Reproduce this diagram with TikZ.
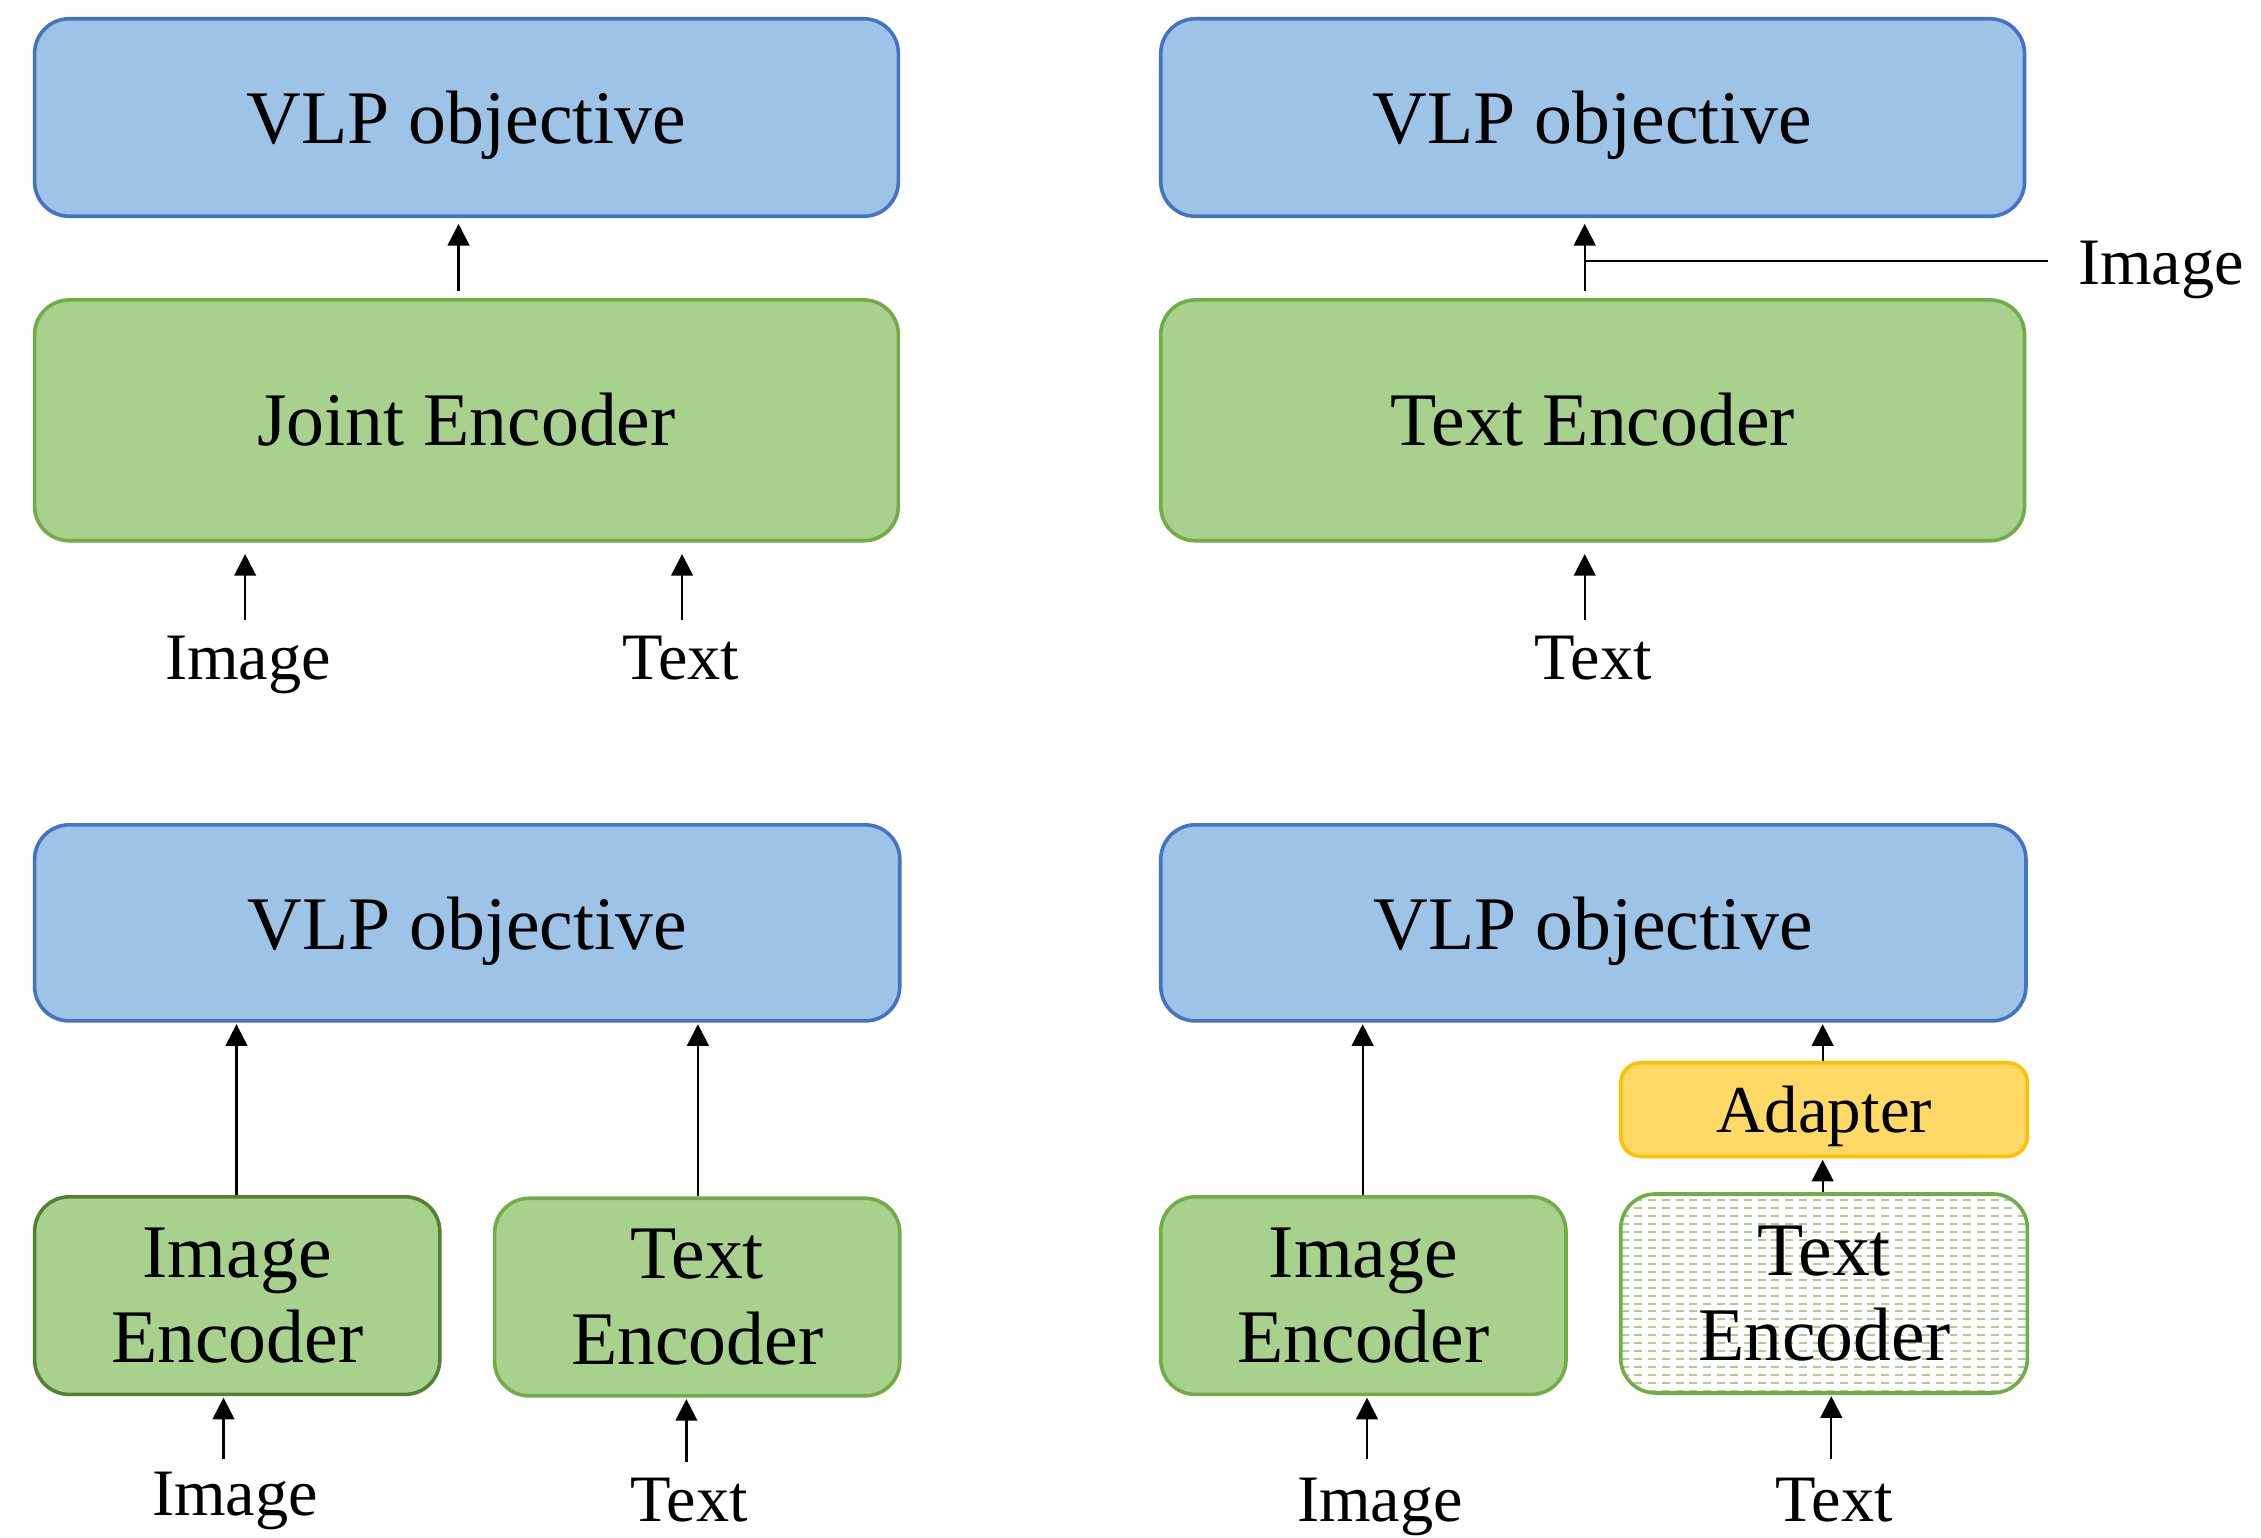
\documentclass[tikz,border=0pt]{standalone}
\usepackage{fontspec}
\setmainfont{Liberation Serif}
\usetikzlibrary{arrows.meta,calc}
\definecolor{vlpfill}{HTML}{9DC3E6}
\definecolor{vlpdraw}{HTML}{4472C4}
\definecolor{encfill}{HTML}{A9D18E}
\definecolor{encdraw}{HTML}{70AD47}
\definecolor{encdark}{HTML}{548235}
\definecolor{adfill}{HTML}{FFD966}
\definecolor{addraw}{HTML}{FFC000}
\tikzset{
  box/.style={rectangle, rounded corners=24pt, line width=2.5pt, inner sep=0pt, align=center,
    font=\fontsize{52.5}{62}\selectfont},
  vlpbox/.style={box, fill=vlpfill, draw=vlpdraw, text depth=0pt},
  encbox/.style={box, fill=encfill, draw=encdraw},
  adbox/.style={box, fill=adfill, draw=addraw, rounded corners=14pt, text depth=0pt, font=\fontsize{46.5}{54}\selectfont},
  lbl/.style={inner sep=0pt, anchor=base, text height=31pt, text depth=10pt, font=\fontsize{46}{54}\selectfont},
  arr/.style={-{Triangle[length=15pt,width=15pt]}, line width=1.6pt},
  hatch/.style={encfill, line width=1.4pt, dash pattern=on 5.5pt off 4pt}
}
\begin{document}
\begin{tikzpicture}[x=1pt,y=-1pt]
\useasboundingbox[fill=white] (0,0) rectangle (1568,1066);

% ---------- top left ----------
\node[vlpbox, minimum width=599pt, minimum height=137pt] (vTL) at (323.5,81.5) {VLP objective};
\node[encbox, minimum width=599pt, minimum height=167pt, text depth=2pt] (jTL) at (323.5,291.5) {Joint Encoder};
\node[lbl] (iTL) at (172,471) {Image};
\node[lbl] (tTL) at (472,471) {Text};
\coordinate (xTL) at (318,0);
\draw[arr, shorten <=5pt, shorten >=4pt] (xTL |- jTL.north) -- (xTL |- vTL.south);
\coordinate (aTLi) at (170,430);
\coordinate (aTLt) at (473,430);
\draw[arr, shorten >=8pt] (aTLi) -- (aTLi |- jTL.south);
\draw[arr, shorten >=8pt] (aTLt) -- (aTLt |- jTL.south);

% ---------- top right ----------
\node[vlpbox, minimum width=599pt, minimum height=137pt] (vTR) at (1104.5,81.5) {VLP objective};
\node[encbox, minimum width=599pt, minimum height=167pt, text depth=2pt] (eTR) at (1104.5,291.5) {Text Encoder};
\node[lbl] (tTR) at (1105,471) {Text};
\node[lbl, anchor=base west] (iTR) at (1441,197) {Image};
\coordinate (xTR) at (1099,0);
\draw[arr, shorten <=5pt, shorten >=4pt] (xTR |- eTR.north) -- (xTR |- vTR.south);
\coordinate (jTR) at (1099,181);
\draw[line width=1.6pt] (iTR.west |- jTR) ++(-21pt,0) -- (jTR);
\coordinate (aTRt) at (1099,430);
\draw[arr, shorten >=8pt] (aTRt) -- (aTRt |- eTR.south);

% ---------- bottom left ----------
\node[vlpbox, minimum width=600pt, minimum height=136pt] (vBL) at (324,640) {VLP objective};
\node[encbox, draw=encdark, minimum width=281pt, minimum height=137pt] (ieBL) at (164.5,898.5) {\raisebox{-3pt}{Image}\\Encoder};
\node[encbox, minimum width=281pt, minimum height=137pt] (teBL) at (483.5,899.5) {\raisebox{-3pt}{Text}\\Encoder};
\node[lbl] (iBL) at (163,1051) {Image};
\node[lbl] (tBL) at (478,1055) {Text};
\coordinate (xBL1) at (164,0);
\coordinate (xBL2) at (484,0);
\draw[arr, shorten >=1pt] (xBL1 |- ieBL.north) -- (xBL1 |- vBL.south);
\draw[arr, shorten >=1pt] (xBL2 |- teBL.north) -- (xBL2 |- vBL.south);
\coordinate (aBLi) at (155,1012);
\coordinate (aBLt) at (476,1014);
\draw[arr, shorten >=1pt] (aBLi) -- (aBLi |- ieBL.south);
\draw[arr, shorten >=1pt] (aBLt) -- (aBLt |- teBL.south);

% ---------- bottom right ----------
\node[vlpbox, minimum width=600pt, minimum height=136pt] (vBR) at (1105,640) {VLP objective};
\node[encbox, minimum width=281pt, minimum height=137pt] (ieBR) at (945.5,898.5) {\raisebox{-3pt}{Image}\\Encoder};
\node[adbox, minimum width=282pt, minimum height=65pt] (adBR) at (1265,769.5) {Adapter};
\begin{scope}
  \clip[rounded corners=24pt] (1124,828) rectangle (1406,966);
  \foreach \y in {832.5,838,...,966} \draw[hatch] (1124,\y) -- (1406,\y);
\end{scope}
\node[box, draw=encdraw, minimum width=282pt, minimum height=138pt] (teBR) at (1265,897) {\raisebox{-3pt}{Text}\\Encoder};
\node[lbl] (iBR) at (957,1055) {Image};
\node[lbl] (tBR) at (1272,1055) {Text};
\coordinate (xBR1) at (945,0);
\coordinate (xBR2) at (1264,0);
\draw[arr, shorten >=1pt] (xBR1 |- ieBR.north) -- (xBR1 |- vBR.south);
\draw[arr, shorten >=1pt] (xBR2 |- adBR.north) -- (xBR2 |- vBR.south);
\draw[arr, shorten >=1pt] (xBR2 |- teBR.north) -- (xBR2 |- adBR.south);
\coordinate (aBRi) at (948,1012);
\coordinate (aBRt) at (1270,1012);
\draw[arr, shorten >=1pt] (aBRi) -- (aBRi |- ieBR.south);
\draw[arr, shorten >=1pt] (aBRt) -- (aBRt |- teBR.south);
\end{tikzpicture}
\end{document}
